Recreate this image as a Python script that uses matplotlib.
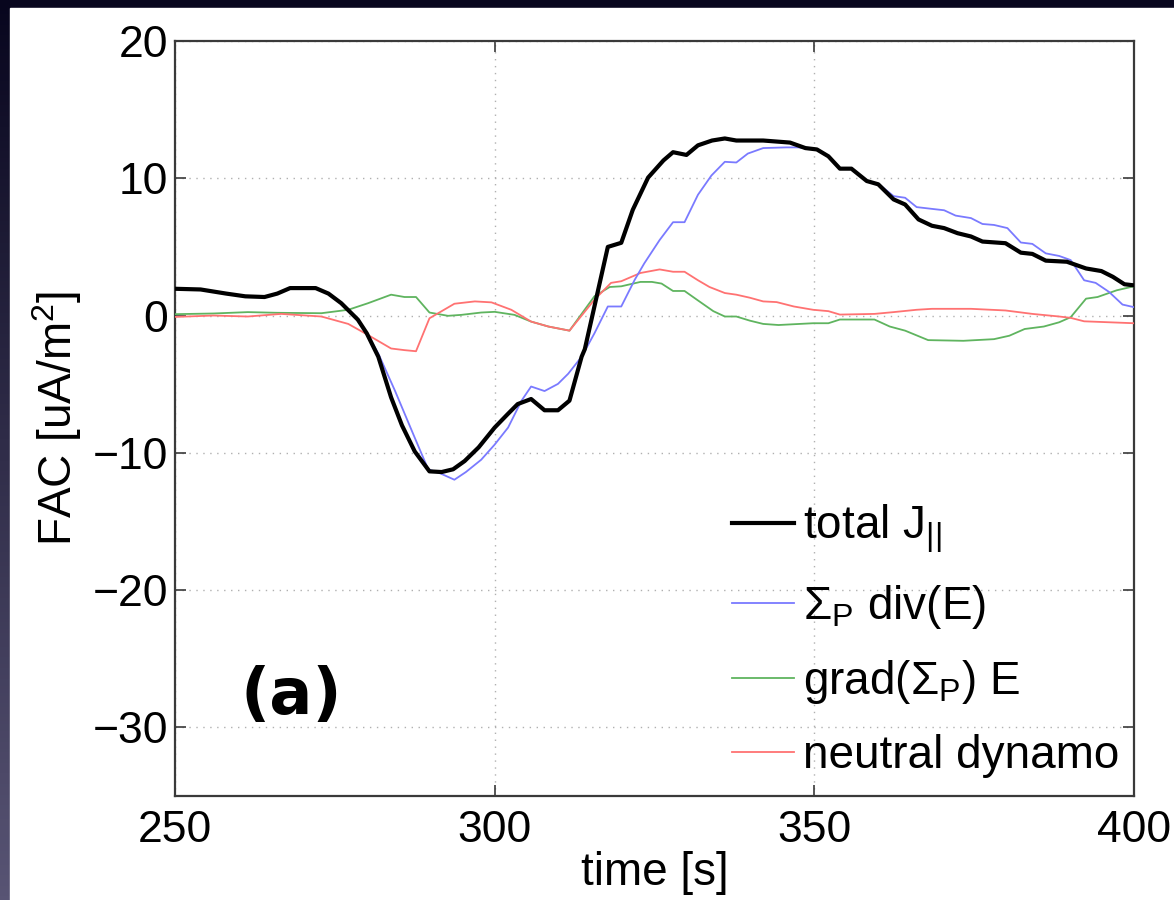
import numpy as np
import matplotlib
matplotlib.use("Agg")
import matplotlib.pyplot as plt
from matplotlib.patches import Rectangle

plt.rcParams['font.family'] = ['Liberation Sans', 'DejaVu Sans']
plt.rcParams['mathtext.fontset'] = 'custom'
plt.rcParams['mathtext.rm'] = 'Liberation Sans'

# ---------------- data ----------------
t_total = [250, 254, 258, 261, 264, 266, 268, 272, 274, 276, 278.6, 280, 281.8, 283.8,
           285.5, 287.5, 289.8, 291.7, 293.5, 295.3, 297.5, 300, 302, 303.6, 305.7,
           307.8, 309.9, 311.7, 313.6, 314.1, 317.7, 319.8, 321.6, 324, 326.4, 327.9,
           330, 331.8, 334, 336, 337.8, 342, 346.2, 348.6, 350.4, 352.2, 354, 355.8,
           358.2, 360, 362.4, 364.2, 366.3, 368.4, 370.3, 372.4, 374.5, 376.3, 379.9,
           382.3, 384.1, 386.2, 389.5, 392.5, 394.9, 396.7, 398.5, 400]
v_total = [1.95, 1.9, 1.6, 1.4, 1.35, 1.6, 2.0, 2.0, 1.6, 0.9, -0.3, -1.3, -3.0, -5.96,
           -8.0, -9.9, -11.35, -11.4, -11.2, -10.6, -9.6, -8.16, -7.2, -6.45, -6.08,
           -6.9, -6.9, -6.2, -3.0, -2.45, 5.0, 5.3, 7.7, 10.05, 11.3, 11.9,
           11.7, 12.4, 12.75, 12.9, 12.75, 12.75, 12.6, 12.2, 12.1, 11.6, 10.7, 10.7,
           9.8, 9.56, 8.46, 8.09, 7.0, 6.54, 6.37, 6.0, 5.76, 5.39, 5.27,
           4.58, 4.49, 4.0, 3.92, 3.43, 3.24, 2.82, 2.28, 2.2]

t_div = [250, 254, 258, 261, 264, 266, 268, 272, 274, 276, 278.6, 280, 281.8, 284.4,
         287.5, 289.6, 291.5, 293.7, 295.5, 297.9, 300, 302.1, 304.2, 305.7, 307.8,
         309.9, 311.5, 313.6, 315.6, 317.7, 319.8, 321.9, 323.4, 325.8, 327.9, 329.7,
         331.8, 333.9, 336, 337.8, 339.6, 342, 345.6, 347.4, 348.6, 350.4, 352.2, 354,
         355.8, 358.2, 360, 362.4, 364.2, 366, 368.4, 370.3, 372.1, 374.5, 376.3, 378.1,
         380.2, 382.3, 384.1, 386.2, 388.3, 390.1, 392.2, 394, 396.1, 398.2, 400]
v_div = [1.95, 1.9, 1.6, 1.4, 1.35, 1.6, 2.0, 2.0, 1.6, 0.9, -0.3, -1.3, -2.77, -5.47,
         -8.9, -11.2, -11.5, -11.96, -11.4, -10.5, -9.4, -8.16, -6.2, -5.17, -5.5,
         -4.98, -4.24, -3.0, -1.3, 0.66, 0.66, 2.6, 3.8, 5.5, 6.8, 6.8,
         8.8, 10.2, 11.2, 11.15, 11.8, 12.2, 12.25, 12.25, 12.2, 12.1, 11.6, 10.7,
         10.7, 9.8, 9.6, 8.7, 8.58, 7.9, 7.77, 7.67, 7.28, 7.1, 6.67, 6.6,
         6.37, 5.32, 5.22, 4.53, 4.34, 4.04, 2.57, 2.38, 1.72, 0.8, 0.61]

t_grad = [250, 256, 261.4, 266, 272.9, 277.1, 280.2, 283.8, 285.9, 287.7, 289.8, 292.7,
          294.8, 297.9, 300, 303.1, 305.7, 308.4, 311.7, 315.6, 318, 319.8, 322.8,
          324.6, 326.1, 327.9, 329.7, 331.8, 334.2, 336, 337.8, 339.9, 342, 344.4,
          349.8, 352.2, 354, 359.4, 361.8, 364.2, 367.8, 373.3, 378.1, 380.5, 382.9,
          385.9, 388.3, 390.1, 392.5, 394.3, 397.3, 400]
v_grad = [0.1, 0.15, 0.25, 0.2, 0.17, 0.42, 0.9, 1.52, 1.35, 1.35, 0.22, -0.02,
          0.05, 0.22, 0.27, 0.05, -0.44, -0.8, -1.1, 1.4, 2.08, 2.13, 2.45,
          2.45, 2.33, 1.79, 1.79, 1.1, 0.32, -0.07, -0.07, -0.37, -0.61, -0.69,
          -0.56, -0.56, -0.29, -0.29, -0.8, -1.1, -1.79, -1.84, -1.72, -1.47, -0.98,
          -0.8, -0.49, -0.12, 1.23, 1.35, 1.84, 2.13]

t_neutral = [250, 256, 261.4, 266.6, 272.9, 277.1, 280.2, 283.8, 285.9, 287.7, 289.8,
             293.7, 296.9, 299.5, 302.6, 305.7, 308.4, 311.7, 315.6, 318.2, 319.8,
             322.8, 325.8, 327.9, 329.7, 331.8, 333.6, 336, 337.8, 339.9, 342, 344.1,
             346.8, 349.8, 352.2, 354, 359.4, 362.4, 366, 368.4, 374.5, 379.9, 384.1,
             388.3, 390.1, 392.2, 396.1, 400]
v_neutral = [-0.1, 0.0, -0.07, 0.12, -0.07, -0.61, -1.42, -2.4, -2.52, -2.6, -0.2,
             0.86, 1.03, 0.96, 0.42, -0.44, -0.8, -1.1, 1.15, 2.38, 2.5,
             3.1, 3.36, 3.19, 3.19, 2.57, 2.08, 1.64, 1.52, 1.3, 1.03, 0.98,
             0.66, 0.42, 0.32, 0.07, 0.12, 0.25, 0.42, 0.49, 0.49, 0.37, 0.12,
             -0.07, -0.17, -0.42, -0.49, -0.56]

labels = ['total J$_{\\mathregular{||}}$', 'Σ$_\\mathregular{P}$ div(E)',
          'grad(Σ$_\\mathregular{P}$) E', 'neutral dynamo']
xticks = [250, 300, 350, 400]
yticks = [-30, -20, -10, 0, 10, 20]

# ---------------- figure ----------------
fig = plt.figure(figsize=(11.74, 9), dpi=100)
bg = fig.add_axes([0, 0, 1, 1], zorder=-10)
top = np.array([8, 6, 30]) / 255.0
bot = np.array([88, 84, 116]) / 255.0
fr = np.linspace(0, 1, 256)[:, None]
grad_img = (top[None, :] * (1 - fr) + bot[None, :] * fr)[:, None, :]
bg.imshow(grad_img, aspect='auto', extent=[0, 1, 0, 1], origin='upper')
bg.add_patch(Rectangle((10 / 1174, 0), 1, (900 - 8) / 900, color='white',
                       transform=bg.transAxes))
bg.set_xlim(0, 1); bg.set_ylim(0, 1)
bg.axis('off')

ax = fig.add_axes([175 / 1174, (900 - 796) / 900, (1134 - 175) / 1174, (796 - 41) / 900])
ax.set_facecolor('white')

ax.plot(t_total, v_total, color='black', lw=3.0, label=labels[0], zorder=5)
ax.plot(t_div, v_div, color='#7a7aff', lw=1.3, label=labels[1], zorder=4)
ax.plot(t_grad, v_grad, color='#5fb45f', lw=1.3, label=labels[2], zorder=3)
ax.plot(t_neutral, v_neutral, color='#ff7272', lw=1.3, label=labels[3], zorder=3)

ax.set_xlim(250, 400)
ax.set_ylim(-35, 20)
ax.set_xticks(xticks)
ax.set_yticks(yticks)
ax.grid(True, linestyle=(0, (1, 4)), color='#b0b0b0', lw=1.0)
for s in ax.spines.values():
    s.set_color('#3a3a3a')
    s.set_linewidth(1.6)
ax.tick_params(direction='in', top=True, right=True, length=8, width=1.2,
               color='#3a3a3a', labelsize=32, labelcolor='black')
ax.tick_params(axis='x', pad=10)
ax.tick_params(axis='y', pad=5)

ax.set_xlabel('time [s]', fontsize=33, labelpad=0)
ax.set_ylabel('FAC [uA/m$^\\mathregular{2}$]', fontsize=33, labelpad=6)

ax.text(260.2, -29.0, '(a)', family='DejaVu Sans', fontweight='bold', fontsize=46,
        ha='left', va='baseline', zorder=6)

leg = ax.legend(loc='lower right', bbox_to_anchor=(0.985, 0.024), frameon=False,
                fontsize=33, handlelength=1.35, handletextpad=0.2, labelspacing=0.6,
                borderpad=0.0, borderaxespad=0.0)

fig.savefig('out.png', dpi=100)
